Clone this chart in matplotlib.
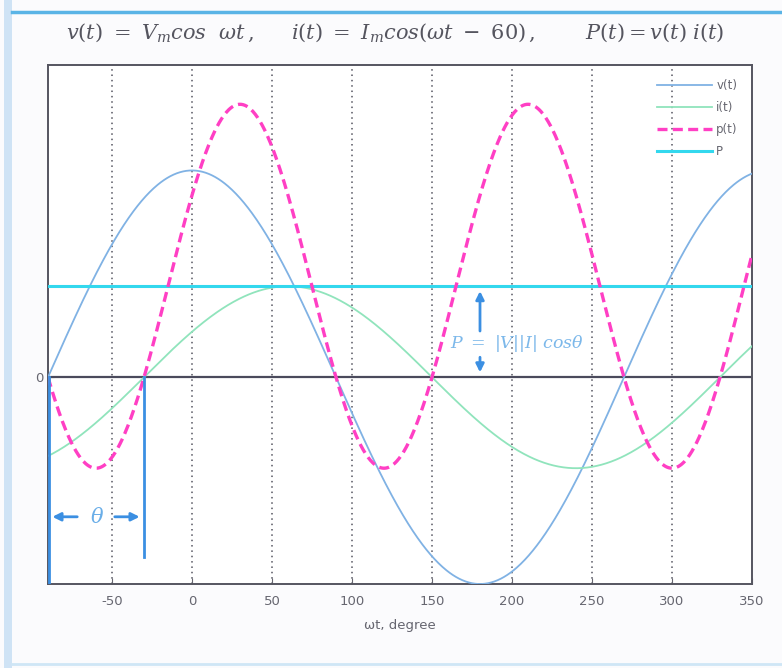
import numpy as np
import matplotlib
matplotlib.use("Agg")
import matplotlib.pyplot as plt
from matplotlib.patches import Rectangle
from matplotlib.lines import Line2D

plt.rcParams["mathtext.fontset"] = "dejavuserif"
plt.rcParams["axes.unicode_minus"] = False

# values (units: Vm = 1)
VM = 1.0          # v(t) peak
IM = 0.44         # i(t) peak
PHASE = 60        # current lags by 60 degrees
P_SCALE = 4.0     # p(t) drawn as 4*v*i in the original
X_RANGE = [-90, 350]
Y_RANGE = [-1.0, 1.51]
xticks = [-50, 0, 50, 100, 150, 200, 250, 300, 350]
yticks = [0]
legend_labels = ["v(t)", "i(t)", "p(t)", "P"]

wt = np.linspace(X_RANGE[0], X_RANGE[1], 881)
v = VM * np.cos(np.radians(wt))
i = IM * np.cos(np.radians(wt - PHASE))
p = P_SCALE * v * i
P = P_SCALE * VM * IM / 2 * np.cos(np.radians(PHASE))

fig = plt.figure(figsize=(7.82, 6.68), dpi=100)
fig.patch.set_facecolor("#fbfbfd")

# page border of the scan
fig.add_artist(Rectangle((4 / 782, 0), 8 / 782, 1, transform=fig.transFigure,
                         color="#cfe3f5", lw=0))
fig.add_artist(Line2D([12 / 782, 1], [1 - 12 / 668] * 2, transform=fig.transFigure,
                      color="#5ab4e6", lw=2.5))
fig.add_artist(Line2D([12 / 782, 1], [1 - 664 / 668] * 2, transform=fig.transFigure,
                      color="#cfe6f6", lw=2))

ax = fig.add_axes([48 / 782, 1 - 584 / 668, 704 / 782, 519 / 668])
ax.set_facecolor("white")

for xt in xticks[:-1]:
    ax.axvline(xt, color="#555560", ls=(0, (1, 2.5)), lw=1.1, zorder=1)
ax.axhline(0, color="#4a4a5c", lw=1.6, zorder=2)

ax.plot(wt, v, color="#80b2e4", lw=1.3, label=legend_labels[0], zorder=3)
ax.plot(wt, i, color="#90e4bc", lw=1.3, label=legend_labels[1], zorder=3)
ax.plot(wt, p, color="#ff3fc4", lw=2.4, ls=(0, (3, 1.6)), label=legend_labels[2], zorder=4)
ax.axhline(P, color="#33d8ee", lw=2.2, label=legend_labels[3], zorder=3)

# theta marker
blue = "#3b8fe2"
ax.plot([X_RANGE[0] + 0.6] * 2, [0, Y_RANGE[0]], color=blue, lw=2, zorder=5)
ax.plot([-PHASE / 2] * 2, [0, -0.87], color=blue, lw=2, zorder=5)
ax.annotate("", xy=(-89, -0.675), xytext=(-70, -0.675),
            arrowprops=dict(arrowstyle="-|>", color=blue, lw=2, mutation_scale=12))
ax.annotate("", xy=(-31, -0.675), xytext=(-50, -0.675),
            arrowprops=dict(arrowstyle="-|>", color=blue, lw=2, mutation_scale=12))
ax.text(-59.5, -0.675, r"$\theta$", color="#6aaee8", fontsize=15,
        ha="center", va="center")

# P marker
ax.annotate("", xy=(180, P - 0.01), xytext=(180, 0.21),
            arrowprops=dict(arrowstyle="-|>", color=blue, lw=2, mutation_scale=12))
ax.annotate("", xy=(180, 0.01), xytext=(180, 0.11),
            arrowprops=dict(arrowstyle="-|>", color=blue, lw=2, mutation_scale=12))
ax.text(161, 0.165, r"$P\ =\ |V||I|\ cos\theta$", color="#7cb8ea", fontsize=12.5,
        ha="left", va="center")

ax.set_xlim(X_RANGE)
ax.set_ylim(Y_RANGE)
ax.set_xticks(xticks)
ax.set_yticks(yticks)
ax.tick_params(direction="in", length=4, colors="#666670", labelsize=9.5)
ax.tick_params(axis="x", pad=8)
ax.tick_params(axis="y", pad=3)
for s in ax.spines.values():
    s.set_color("#555560")
    s.set_linewidth(1.4)
ax.set_xlabel("ωt, degree", color="#666670", fontsize=9.5, labelpad=8)

leg = ax.legend(loc="upper right", frameon=False, fontsize=8.5, handlelength=4.6,
                labelspacing=0.75, borderaxespad=0.8, handletextpad=0.4)
for t in leg.get_texts():
    t.set_color("#666670")

fig.text(0.505, 1 - 33 / 668,
         r"$v(t)\ =\ V_m cos\ \ \omega t\,,\ \ \ \ \ i(t)\ =\ I_m cos(\omega t\ -\ 60)\,,\ \ \ \ \ \ \ P(t){=}v(t)\ i(t)$",
         ha="center", va="center", fontsize=15, color="#55555f")

fig.savefig("out.png", dpi=100, facecolor=fig.get_facecolor())
